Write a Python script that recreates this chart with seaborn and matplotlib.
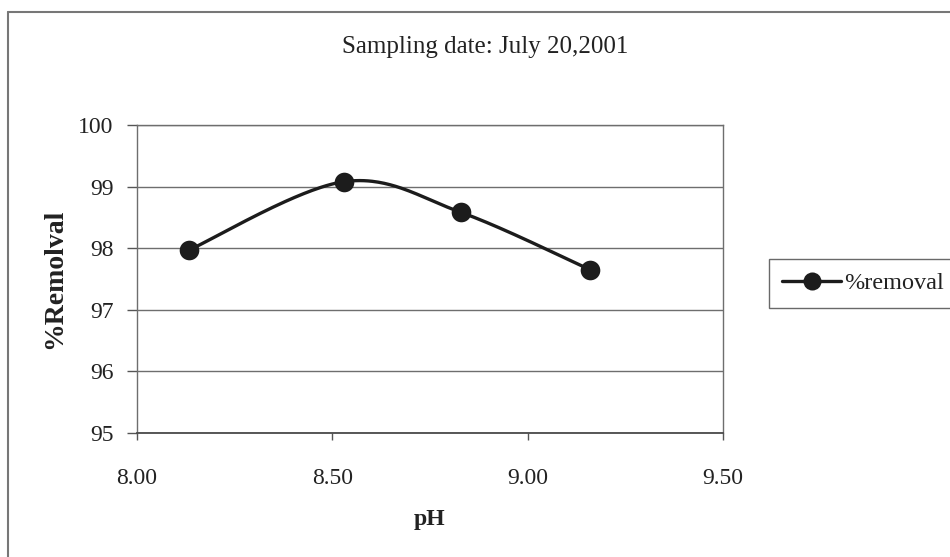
import numpy as np
import pandas as pd
import matplotlib
matplotlib.use("Agg")
import matplotlib.pyplot as plt
from matplotlib.lines import Line2D
import seaborn as sns

# Measured data
ph = [8.133, 8.53, 8.83, 9.16]
removal = [97.97, 99.08, 98.58, 97.65]

title = "Sampling date: July 20,2001"
x_label = "pH"
y_label = "%Remolval"
series_name = "%removal"
x_ticks = [8.00, 8.50, 9.00, 9.50]
y_ticks = [95, 96, 97, 98, 99, 100]

sns.set_theme(style="white")
plt.rcParams["font.family"] = ["Liberation Serif", "DejaVu Serif"]

W, H, DPI = 950, 557, 100
fig = plt.figure(figsize=(W / DPI, H / DPI), dpi=DPI)
ax_l, ax_r, ax_t, ax_b = 137, 723, 125, 433
ax = fig.add_axes([ax_l / W, 1 - ax_b / H, (ax_r - ax_l) / W, (ax_b - ax_t) / H])

xmin, xmax = 8.0, 9.5
ymin, ymax = 95, 100
ax.set_xlim(xmin, xmax)
ax.set_ylim(ymin, ymax)

# Smoothed line (cubic Bezier through points, computed in screen units)
sx = (ax_r - ax_l) / (xmax - xmin)
sy = (ax_b - ax_t) / (ymax - ymin)
P = np.column_stack([np.array(ph) * sx, np.array(removal) * sy])
n = len(P)
curve = []
t = np.linspace(0, 1, 60)[:, None]
for i in range(n - 1):
    p0 = P[i]
    p3 = P[i + 1]
    prev = P[i - 1] if i > 0 else P[i]
    nxt = P[i + 2] if i + 2 < n else P[i + 1]
    c1 = p0 + (p3 - prev) / 6.0
    c2 = p3 - (nxt - p0) / 6.0
    seg = ((1 - t) ** 3) * p0 + 3 * ((1 - t) ** 2) * t * c1 + 3 * (1 - t) * t ** 2 * c2 + t ** 3 * p3
    curve.append(seg if i == 0 else seg[1:])
curve = np.vstack(curve)
smooth = pd.DataFrame({"pH": curve[:, 0] / sx, "removal": curve[:, 1] / sy})
points = pd.DataFrame({"pH": ph, "removal": removal})

line_color = "#1c1c1c"
sns.lineplot(data=smooth, x="pH", y="removal", sort=False, ax=ax,
             color=line_color, linewidth=2.4, zorder=3)
sns.scatterplot(data=points, x="pH", y="removal", ax=ax, s=200,
                color=line_color, edgecolor=line_color, linewidth=0, zorder=4)

# Grid and frame
ax.set_yticks(y_ticks)
ax.set_xticks(x_ticks)
ax.set_xticklabels([f"{v:.2f}" for v in x_ticks])
ax.set_yticklabels([str(v) for v in y_ticks])
ax.yaxis.grid(True, color="#6e6e6e", linewidth=1.0)
ax.xaxis.grid(False)
for side in ["left", "right", "top"]:
    ax.spines[side].set_color("#6e6e6e")
    ax.spines[side].set_linewidth(1.0)
ax.spines["bottom"].set_color("#4a4a4a")
ax.spines["bottom"].set_linewidth(1.3)
ax.tick_params(axis="y", direction="out", length=7, width=1, color="#555555",
               pad=10, labelsize=17, labelcolor="#222222", left=True)
ax.tick_params(axis="x", direction="out", length=5, width=1, color="#555555",
               pad=20, labelsize=17, labelcolor="#222222", bottom=True)

ax.set_xlabel(x_label, fontsize=17, fontweight="bold", color="#222222")
ax.set_ylabel(y_label, fontsize=20, fontweight="bold", color="#222222")
ax.xaxis.set_label_coords(0.5, (ax_b - 520) / (ax_b - ax_t))
ax.yaxis.set_label_coords((55 - ax_l) / (ax_r - ax_l), 0.5)
ax.xaxis.label.set_va("center")
ax.yaxis.label.set_va("center")

fig.text(485 / W, 1 - 47 / H, title, ha="center", va="center",
         fontsize=18, color="#222222")

# Legend
handle = Line2D([], [], color=line_color, linewidth=2.4, marker="o",
                markersize=13, markerfacecolor=line_color, markeredgewidth=0)
leg = fig.legend([handle], [series_name], loc="upper left",
                 bbox_to_anchor=(769 / W, 1 - 259 / H), bbox_transform=fig.transFigure,
                 fontsize=17.5, frameon=True, fancybox=False, borderaxespad=0,
                 handlelength=2.4, handletextpad=0.15, borderpad=0.55)
leg.get_frame().set_edgecolor("#444444")
leg.get_frame().set_linewidth(1.0)
for txt in leg.get_texts():
    txt.set_color("#222222")

# Chart area border (top and left edges)
fig.add_artist(Line2D([8 / W, 8 / W], [0, 1 - 12 / H], transform=fig.transFigure,
                      color="#777777", linewidth=1.5))
fig.add_artist(Line2D([8 / W, 1], [1 - 12 / H, 1 - 12 / H], transform=fig.transFigure,
                      color="#777777", linewidth=1.5))

fig.savefig("out.png", dpi=DPI)
